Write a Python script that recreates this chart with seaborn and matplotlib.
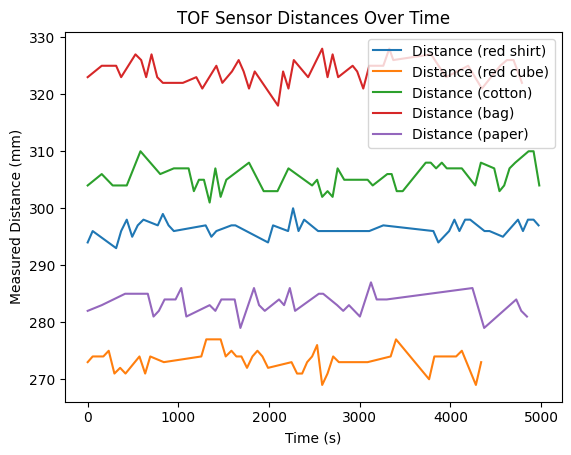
import matplotlib
matplotlib.use("Agg")
import matplotlib.pyplot as plt
import seaborn as sns
import pandas as pd

labels = ["Distance (red shirt)", "Distance (red cube)", "Distance (cotton)",
          "Distance (bag)", "Distance (paper)"]

shirt_t = [0, 55, 314, 369, 431, 491, 552, 615, 773, 829, 892, 950, 1301, 1364, 1419,
           1585, 1629, 1989, 2044, 2210, 2265, 2325, 2387, 2541, 3105, 3260, 3812, 3867,
           3986, 4044, 4099, 4162, 4218, 4376, 4431, 4579, 4745, 4800, 4855, 4917, 4972]
shirt_d = [294, 296, 293, 296, 298, 295, 297, 298, 297, 299, 297, 296, 297, 295, 296,
           297, 297, 294, 297, 296, 300, 296, 298, 296, 296, 297, 296, 294,
           296, 298, 296, 298, 298, 296, 296, 295, 298, 296, 298, 298, 297]

cube_t = [0, 55, 173, 232, 295, 358, 417, 571, 634, 690, 840, 1253, 1308, 1466, 1522,
          1585, 1640, 1695, 1757, 1817, 1872, 1927, 1989, 2248, 2309, 2365, 2420, 2475,
          2530, 2586, 2645, 2707, 2770, 3087, 3341, 3400, 3765, 3823, 4063, 4126, 4281, 4339]
cube_d = [273, 274, 274, 275, 271, 272, 271, 274, 271, 274, 273, 274, 277, 277, 274,
          275, 274, 274, 272, 274, 275, 274, 272, 273, 271, 271, 273, 274,
          276, 269, 271, 274, 273, 273, 274, 277, 270, 274, 274, 275, 269, 273]

cotton_t = [0, 155, 276, 431, 582, 800, 950, 1113, 1171, 1227, 1282, 1345, 1408, 1466,
            1529, 1779, 1941, 2093, 2214, 2475, 2530, 2586, 2645, 2701, 2756, 2829, 3087,
            3143, 3304, 3352, 3408, 3474, 3728, 3783, 3842, 3905, 3960, 4126, 4273, 4336,
            4483, 4541, 4593, 4652, 4715, 4862, 4917, 4980]
cotton_d = [304, 306, 304, 304, 310, 306, 307, 307, 303, 305, 305, 301, 307, 302,
            305, 308, 303, 303, 307, 304, 305, 302, 303, 302, 307, 305, 305,
            304, 306, 306, 303, 303, 308, 308, 307, 308, 307, 307, 304, 308,
            307, 303, 304, 307, 308, 310, 310, 304]

bag_t = [0, 155, 314, 369, 527, 590, 645, 704, 767, 829, 1050, 1198, 1264, 1419, 1485,
         1591, 1665, 1720, 1779, 1842, 2099, 2155, 2214, 2273, 2431, 2586, 2645, 2701,
         2762, 2922, 2972, 3039, 3105, 3260, 3326, 3370, 3787, 3952, 4196, 4347, 4549,
         4623, 4696, 4789]
bag_d = [323, 325, 325, 323, 327, 326, 323, 327, 323, 322, 322, 323, 321, 325, 322,
         324, 326, 324, 321, 324, 318, 324, 321, 326, 323, 328, 323, 327,
         323, 325, 324, 321, 325, 325, 328, 326, 327, 323, 325, 321, 325,
         326, 326, 322]

paper_t = [0, 155, 413, 663, 726, 785, 848, 969, 1032, 1088, 1345, 1408, 1474, 1621,
           1684, 1834, 1890, 1953, 2110, 2166, 2229, 2287, 2549, 2597, 2751, 2818, 2881,
           3002, 3124, 3187, 3297, 4243, 4372, 4726, 4781, 4844]
paper_d = [282, 283, 285, 285, 281, 282, 284, 284, 286, 281, 283, 282, 284, 284,
           279, 286, 283, 282, 284, 283, 286, 282, 285, 285, 283, 282, 283,
           281, 287, 284, 284, 286, 279, 284, 282, 281]

series = [(shirt_t, shirt_d), (cube_t, cube_d), (cotton_t, cotton_d),
          (bag_t, bag_d), (paper_t, paper_d)]

frames = []
for lab, (t, d) in zip(labels, series):
    frames.append(pd.DataFrame({"Time": t, "Distance": d, "Series": lab}))
df = pd.concat(frames, ignore_index=True)

fig = plt.figure(figsize=(5.71, 4.55), dpi=100)
ax = fig.add_axes([0.114, 0.117, 0.870, 0.813])
sns.lineplot(data=df, x="Time", y="Distance", hue="Series", hue_order=labels,
             palette="tab10", ax=ax, linewidth=1.5, sort=False, estimator=None)
ax.set_title("TOF Sensor Distances Over Time", fontsize=12)
ax.set_xlabel("Time (s)")
ax.set_ylabel("Measured Distance (mm)")
ax.legend(loc="upper right", title=None)
fig.savefig("out.png", dpi=100)
